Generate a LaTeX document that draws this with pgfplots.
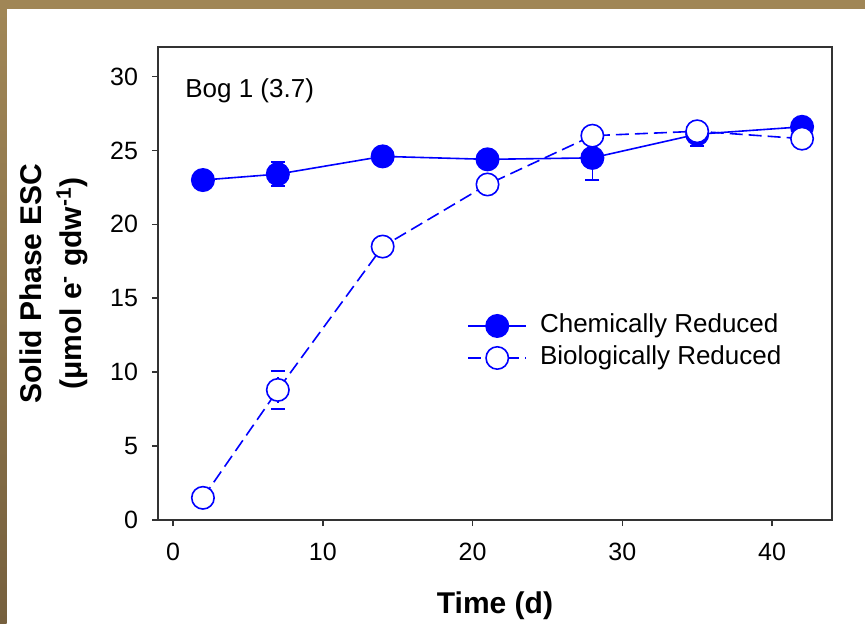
\documentclass[border=0pt]{standalone}
\usepackage{fontspec}
\setmainfont{Liberation Sans}
\usepackage{pgfplots}
\pgfplotsset{compat=1.18}
\definecolor{gold}{HTML}{A08656}
\definecolor{golddark}{HTML}{76603E}
\definecolor{pblue}{RGB}{0,0,255}
\begin{document}
\begin{tikzpicture}
\path[use as bounding box] (0,0) rectangle (432.5pt,311.5pt);
\fill[white] (0,0) rectangle (432.5pt,311.5pt);
\fill[gold] (0,307pt) rectangle (432.5pt,311.5pt);
\shade[top color=gold,bottom color=golddark] (0,0) rectangle (3.3pt,307pt);
\begin{axis}[
  at={(79pt,51.5pt)}, anchor=south west,
  scale only axis, width=337pt, height=236.5pt,
  xmin=-1, xmax=44, ymin=0, ymax=32,
  xtick={0,10,...,40}, ytick={0,5,...,30},
  tick align=outside, xtick pos=bottom, ytick pos=left,
  major tick length=3pt,
  tick style={black!80, line width=0.8pt},
  axis line style={black!80, line width=0.8pt},
  ticklabel style={font=\fontsize{12.5}{15}\selectfont},
  /pgf/number format/assume math mode=true,
  xticklabel style={yshift=-5pt},
  yticklabel style={xshift=-3.5pt},
  xlabel={Time (d)},
  ylabel={Solid Phase ESC\\(μmol e\textsuperscript{-} gdw\textsuperscript{-1})},
  label style={font=\bfseries\fontsize{15}{20}\selectfont},
  xlabel style={at={(axis description cs:0.5,-0.1985)}, anchor=base},
  ylabel style={at={(axis description cs:-0.1039,0.5)}, anchor=south, align=center, inner sep=0pt},
  legend cell align=left,
  legend style={draw=none, fill=none, inner sep=0pt, anchor=west,
    at={(axis description cs:0.4585,0.3764)},
    column sep=6.5pt, row sep=4pt,
    font=\fontsize{13}{15}\selectfont,
    nodes={inner sep=0pt, text height=9.5pt, text depth=2.5pt}},
  legend image code/.code={\draw[mark repeat=2,mark phase=2,#1] plot coordinates {(0pt,0pt) (14.5pt,0pt) (29pt,0pt)};},
  error bars/error bar style={line width=0.8pt},
  error bars/error mark options={rotate=90, mark size=3.5pt, line width=0.8pt},
]
\addplot[pblue, line width=0.8pt, mark=*, mark size=5.6pt, mark options={solid, fill=pblue, draw=pblue},
  error bars/.cd, y dir=both, y explicit]
  coordinates {
  (2,23.0) +- (0,0.3)
  (7,23.4) +- (0,0.8)
  (14,24.6) +- (0,0.2)
  (21,24.4) +- (0,0.2)
  (28,24.5) +- (0,1.5)
  (35,26.1) +- (0,0.8)
  (42,26.6) +- (0,0.2)
  };
\addlegendentry{Chemically Reduced}
\addplot[pblue, line width=0.8pt, dash pattern=on 6.5pt off 3pt, mark=*, mark size=5.6pt, mark options={solid, fill=white, draw=pblue},
  error bars/.cd, y dir=both, y explicit]
  coordinates {
  (2,1.5) +- (0,0.2)
  (7,8.8) +- (0,1.3)
  (14,18.5) +- (0,0.2)
  (21,22.7) +- (0,0.2)
  (28,26.0) +- (0,0.2)
  (35,26.3) +- (0,0.2)
  (42,25.8) +- (0,0.2)
  };
\addlegendentry{Biologically Reduced}
\node[anchor=base west, inner sep=0pt, font=\fontsize{13}{15}\selectfont] at (axis description cs:0.040,0.8943) {Bog 1 (3.7)};
\end{axis}
\end{tikzpicture}
\end{document}
